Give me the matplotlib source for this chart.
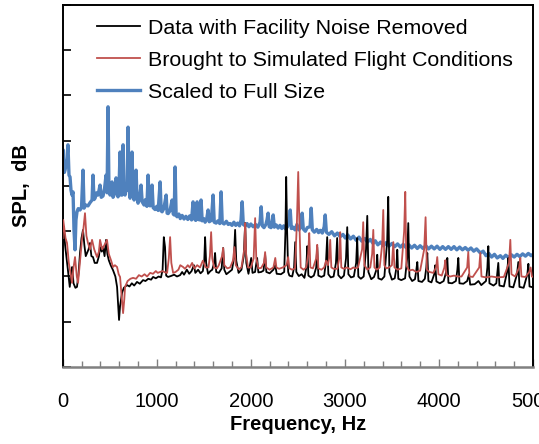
import matplotlib
matplotlib.use("Agg")
import matplotlib.pyplot as plt
from matplotlib.ticker import MultipleLocator, NullFormatter

plt.rcParams['font.family'] = ['Liberation Sans', 'DejaVu Sans']

# (frequency Hz, SPL dB)
black_pts = [
    (0, 69.8), (12, 71.0), (25, 67.0), (40, 64.3), (55, 61.5), (75, 57.7), (90, 60.5), (100, 62.1),
    (115, 58.5), (135, 57.5), (152, 57.7), (170, 61.0), (184, 65.2), (200, 68.5), (216, 70.3),
    (230, 67.0), (245, 64.5), (259, 65.2), (275, 66.0), (290, 67.4), (305, 64.5), (322, 64.3),
    (340, 63.0), (365, 63.0), (385, 64.5), (397, 66.5), (415, 65.5), (429, 66.5), (445, 64.5),
    (461, 68.1), (475, 65.0), (490, 63.6), (510, 62.5), (535, 61.4), (560, 60.0), (578, 57.7),
    (592, 53.0), (599, 50.4), (610, 53.5), (631, 56.4), (650, 57.5), (684, 58.1), (710, 57.8),
    (735, 58.5), (760, 58.0), (790, 58.8), (820, 58.4), (854, 59.2), (880, 59.0), (910, 59.5),
    (940, 59.3), (961, 59.9), (990, 59.6), (1020, 60.0), (1045, 59.8), (1062, 61.5), (1075, 68.7),
    (1088, 66.5), (1100, 60.2), (1120, 59.9), (1150, 60.1), (1185, 60.4), (1215, 60.0), (1248, 60.3),
    (1270, 61.0), (1290, 60.4), (1320, 61.5), (1345, 60.6), (1370, 61.2), (1395, 62.5), (1410, 60.8),
    (1440, 61.5), (1465, 60.7), (1490, 61.2), (1505, 63.5), (1514, 68.7), (1525, 63.0), (1545, 60.6),
    (1570, 61.2), (1590, 61.5), (1610, 63.0), (1620, 65.2), (1632, 61.0), (1660, 60.8), (1690, 61.8),
    (1706, 66.3), (1718, 61.5), (1740, 60.5), (1770, 61.0), (1800, 61.5), (1820, 64.0), (1833, 70.3),
    (1845, 63.5), (1870, 60.8), (1900, 61.5), (1925, 64.5), (1940, 71.8), (1952, 63.0), (1975, 60.6),
    (2004, 64.1), (2018, 60.8), (2045, 61.0), (2067, 64.1), (2080, 60.9), (2110, 61.0), (2135, 61.3),
    (2152, 64.8), (2165, 61.0), (2200, 60.7), (2240, 61.5), (2260, 62.5), (2275, 60.6), (2320, 60.5),
    (2355, 61.0), (2368, 70.0), (2376, 82.0), (2386, 70.0), (2397, 61.0), (2410, 60.2), (2440, 60.0),
    (2460, 62.0), (2472, 67.6), (2484, 61.0), (2510, 60.1), (2540, 60.5), (2570, 59.7), (2590, 62.0),
    (2600, 66.7), (2612, 60.2), (2640, 59.8), (2670, 60.2), (2695, 62.0), (2706, 66.5), (2718, 60.2),
    (2750, 59.9), (2780, 60.2), (2800, 63.5), (2812, 68.7), (2824, 60.5), (2850, 59.8), (2880, 60.0),
    (2905, 63.0), (2918, 68.5), (2930, 60.3), (2960, 59.6), (2990, 60.2), (3012, 64.0), (3025, 70.9),
    (3037, 60.5), (3065, 59.8), (3095, 60.0), (3120, 63.0), (3131, 68.5), (3143, 60.0), (3170, 59.5),
    (3200, 60.0), (3225, 66.0), (3238, 73.4), (3250, 61.0), (3280, 59.4), (3310, 59.9), (3335, 61.5),
    (3344, 64.8), (3356, 59.6), (3390, 59.3), (3420, 60.0), (3450, 68.0), (3461, 77.6), (3473, 61.0),
    (3500, 59.3), (3530, 59.6), (3548, 62.0), (3557, 65.9), (3568, 59.5), (3600, 59.2), (3640, 59.6),
    (3662, 64.0), (3674, 71.8), (3686, 60.0), (3715, 59.0), (3745, 59.4), (3760, 61.5), (3770, 63.2),
    (3782, 59.0), (3820, 58.8), (3850, 59.5), (3866, 62.0), (3876, 65.2), (3888, 59.0), (3920, 58.7),
    (3950, 60.5), (3961, 62.5), (3973, 58.9), (4010, 58.5), (4050, 59.0), (4077, 61.0), (4089, 64.1),
    (4101, 58.6), (4140, 58.5), (4180, 59.0), (4196, 61.5), (4206, 64.1), (4218, 58.5), (4260, 58.4),
    (4300, 59.0), (4320, 60.5), (4332, 58.2), (4380, 58.3), (4420, 59.0), (4450, 58.1), (4500, 59.0),
    (4515, 62.0), (4525, 66.7), (4537, 58.5), (4580, 58.0), (4610, 58.5), (4622, 61.0), (4631, 63.0),
    (4643, 58.0), (4690, 57.8), (4725, 61.0), (4738, 64.1), (4750, 57.8), (4790, 57.6), (4830, 60.5),
    (4844, 63.2), (4856, 57.7), (4900, 57.5), (4940, 60.5), (4951, 62.8), (4963, 57.8), (5000, 57.6),
]

red_pts = [
    (0, 68.5), (5, 72.5), (15, 71.0), (30, 68.5), (46, 67.4), (65, 63.0), (85, 60.5), (99, 58.6),
    (115, 62.0), (131, 64.3), (150, 60.0), (163, 58.6), (180, 62.5), (205, 68.1), (220, 70.5),
    (237, 74.0), (252, 69.0), (269, 67.4), (290, 66.0), (312, 68.1), (335, 66.0), (365, 64.3),
    (385, 65.5), (397, 68.1), (420, 66.0), (445, 67.0), (471, 68.1), (490, 65.0), (515, 63.5),
    (535, 62.1), (555, 62.5), (578, 62.1), (595, 60.5), (610, 59.9), (625, 56.0), (642, 51.9),
    (655, 55.0), (663, 57.7), (690, 59.0), (720, 59.5), (748, 59.7), (780, 59.5), (810, 60.3),
    (840, 60.0), (870, 60.5), (897, 60.0), (930, 60.8), (960, 60.6), (990, 61.2), (1010, 60.8),
    (1036, 61.0), (1060, 61.2), (1090, 60.9), (1110, 60.8), (1128, 64.0), (1142, 68.7), (1155, 63.0),
    (1174, 60.8), (1200, 61.0), (1230, 61.5), (1250, 62.5), (1280, 62.1), (1300, 61.7), (1330, 62.5),
    (1350, 62.0), (1376, 63.0), (1400, 61.8), (1430, 62.5), (1460, 62.0), (1490, 63.5), (1520, 62.0),
    (1550, 62.0), (1565, 64.5), (1578, 69.8), (1590, 64.0), (1610, 62.0), (1640, 61.8), (1660, 62.5),
    (1694, 64.5), (1706, 66.3), (1718, 62.5), (1750, 61.8), (1780, 62.0), (1810, 63.5), (1826, 66.5),
    (1840, 62.5), (1870, 61.6), (1900, 62.0), (1930, 66.0), (1940, 71.8), (1950, 65.0), (1970, 62.0),
    (2000, 62.0), (2030, 64.0), (2046, 72.9), (2058, 64.0), (2080, 61.8), (2110, 61.9), (2140, 63.0),
    (2152, 65.4), (2164, 62.0), (2200, 61.5), (2240, 62.0), (2260, 64.1), (2272, 62.0), (2300, 61.7),
    (2340, 62.0), (2380, 62.5), (2397, 64.3), (2410, 61.8), (2440, 61.5), (2470, 61.8), (2490, 72.0),
    (2504, 83.1), (2516, 72.0), (2530, 62.0), (2560, 61.5), (2590, 62.0), (2610, 65.0), (2621, 69.6),
    (2633, 62.0), (2660, 61.8), (2695, 64.0), (2706, 67.0), (2718, 61.8), (2750, 61.5), (2780, 62.0),
    (2800, 63.5), (2820, 62.5), (2832, 64.0), (2844, 68.1), (2856, 62.0), (2880, 61.7), (2920, 61.7),
    (2940, 64.0), (2950, 69.8), (2962, 62.0), (2990, 61.7), (3020, 62.0), (3060, 61.6), (3090, 62.0),
    (3110, 61.8), (3140, 62.0), (3183, 66.0), (3195, 72.0), (3207, 62.5), (3240, 61.5), (3270, 62.0),
    (3290, 65.0), (3302, 70.3), (3314, 62.0), (3340, 61.5), (3370, 62.0), (3396, 67.0), (3408, 74.7),
    (3420, 62.5), (3440, 61.8), (3470, 62.0), (3500, 62.5), (3515, 67.6), (3527, 62.0), (3560, 61.5),
    (3600, 61.8), (3630, 70.0), (3642, 78.7), (3654, 62.5), (3680, 61.3), (3720, 61.5), (3760, 61.0),
    (3800, 61.3), (3843, 66.0), (3858, 73.1), (3872, 61.5), (3900, 61.0), (3940, 60.8), (3970, 62.0),
    (3982, 64.3), (3994, 60.5), (4030, 60.2), (4058, 62.0), (4068, 63.6), (4080, 60.3), (4120, 60.0),
    (4160, 60.2), (4200, 60.0), (4240, 60.0), (4300, 62.0), (4312, 65.4), (4324, 60.0), (4360, 59.9),
    (4428, 62.0), (4440, 65.2), (4452, 60.0), (4500, 59.8), (4560, 60.0), (4620, 59.8), (4690, 59.9),
    (4745, 63.0), (4759, 68.1), (4771, 60.5), (4810, 60.0), (4853, 62.0), (4865, 64.1), (4877, 60.0),
    (4920, 59.9), (4960, 61.0), (4975, 62.0), (4988, 60.0), (5000, 59.9),
]

blue_pts = [
    (0, 83.1), (4, 88.0), (10, 84.5), (18, 83.0), (25, 83.5), (35, 84.6), (45, 86.0), (56, 89.1),
    (67, 82.4), (78, 82.0), (88, 79.1), (99, 78.0), (110, 78.7), (120, 70.3), (131, 65.9), (141, 72.5),
    (152, 74.3), (165, 75.0), (184, 74.7), (200, 75.2), (216, 83.5), (227, 75.1), (245, 75.8),
    (269, 75.6), (290, 76.3), (312, 76.9), (322, 82.4), (333, 77.0), (344, 77.3), (360, 78.5),
    (376, 78.0), (397, 80.2), (410, 77.5), (429, 77.8), (445, 79.5), (461, 82.4), (472, 78.5),
    (482, 97.5), (492, 79.0), (503, 78.0), (514, 79.5), (525, 80.9), (535, 77.5), (546, 78.0),
    (556, 79.0), (567, 81.8), (578, 78.5), (588, 77.6), (599, 80.0), (610, 87.5), (620, 78.0),
    (631, 78.0), (642, 89.1), (652, 78.5), (663, 78.0), (675, 80.5), (684, 79.0), (695, 93.0),
    (705, 79.5), (716, 77.3), (727, 79.0), (737, 87.5), (748, 78.0), (759, 76.9), (770, 78.0),
    (780, 83.5), (790, 77.5), (801, 76.2), (815, 77.0), (833, 80.2), (845, 76.5), (865, 75.8),
    (880, 77.0), (895, 75.5), (908, 82.4), (920, 75.8), (929, 75.6), (940, 77.0), (950, 80.2),
    (962, 75.2), (982, 74.8), (1000, 75.5), (1015, 74.6), (1036, 80.9), (1047, 74.5), (1057, 74.3),
    (1075, 75.0), (1100, 78.0), (1110, 74.0), (1121, 73.9), (1140, 74.5), (1163, 76.9), (1175, 73.8),
    (1185, 73.6), (1195, 84.2), (1206, 73.5), (1216, 73.2), (1235, 73.8), (1250, 72.8), (1270, 73.5),
    (1290, 72.7), (1310, 73.3), (1330, 72.6), (1350, 73.4), (1370, 72.5), (1386, 76.5), (1398, 72.8),
    (1414, 72.4), (1429, 76.5), (1441, 72.6), (1460, 72.5), (1471, 76.9), (1483, 72.3), (1500, 72.8),
    (1514, 72.0), (1530, 72.6), (1546, 74.7), (1558, 72.1), (1580, 72.4), (1599, 78.0), (1611, 72.0),
    (1631, 71.8), (1650, 72.3), (1670, 71.7), (1684, 78.7), (1696, 71.9), (1716, 71.6), (1740, 72.2),
    (1760, 71.5), (1780, 71.7), (1800, 71.3), (1820, 72.0), (1840, 71.3), (1860, 71.8), (1880, 71.2),
    (1896, 72.5), (1908, 76.5), (1920, 71.5), (1940, 71.2), (1960, 71.7), (1980, 71.0), (2000, 71.6),
    (2025, 71.0), (2050, 71.5), (2075, 70.9), (2098, 72.0), (2110, 75.4), (2122, 71.2), (2140, 70.8),
    (2160, 71.5), (2172, 72.5), (2184, 74.0), (2196, 71.0), (2215, 70.8), (2226, 72.0), (2238, 73.6),
    (2250, 70.9), (2270, 71.4), (2290, 70.7), (2310, 71.3), (2330, 70.6), (2350, 71.2), (2370, 70.5),
    (2390, 71.0), (2408, 72.0), (2419, 74.7), (2431, 70.6), (2450, 70.9), (2470, 70.3), (2490, 71.5),
    (2510, 70.3), (2534, 71.0), (2546, 74.0), (2558, 70.5), (2580, 70.0), (2600, 70.8), (2630, 71.0),
    (2642, 75.1), (2654, 70.3), (2675, 69.8), (2700, 70.4), (2720, 69.7), (2738, 70.2), (2760, 69.6),
    (2780, 71.0), (2791, 73.6), (2803, 69.8), (2830, 69.3), (2860, 69.9), (2890, 69.0), (2920, 69.6),
    (2950, 68.8), (2980, 69.3), (3004, 68.5), (3030, 69.2), (3060, 68.3), (3090, 68.9), (3120, 68.0),
    (3150, 68.7), (3180, 67.8), (3210, 68.4), (3240, 67.6), (3270, 68.2), (3300, 67.3), (3323, 67.9),
    (3350, 67.0), (3380, 67.6), (3410, 66.8), (3440, 67.5), (3470, 66.7), (3500, 67.3), (3530, 66.6),
    (3560, 67.2), (3590, 66.5), (3620, 67.1), (3650, 66.4), (3680, 67.0), (3710, 66.3), (3740, 66.9),
    (3770, 66.2), (3800, 66.8), (3830, 66.2), (3860, 66.8), (3890, 66.1), (3920, 66.7), (3950, 66.1),
    (3980, 66.7), (4010, 66.0), (4040, 66.6), (4070, 66.0), (4100, 66.6), (4130, 66.0), (4160, 66.6),
    (4190, 65.9), (4220, 66.5), (4250, 65.9), (4280, 66.4), (4310, 65.8), (4340, 66.3), (4370, 65.6),
    (4400, 66.1), (4440, 65.2), (4470, 65.6), (4500, 64.6), (4530, 65.1), (4560, 64.3), (4590, 64.9),
    (4620, 64.1), (4653, 64.6), (4680, 64.0), (4710, 64.7), (4740, 64.2), (4770, 64.8), (4800, 64.3),
    (4830, 64.9), (4860, 64.4), (4890, 65.0), (4920, 64.5), (4950, 65.1), (4980, 64.6), (5000, 64.9),
]

labels = ['Data with Facility Noise Removed',
          'Brought to Simulated Flight Conditions',
          'Scaled to Full Size']

fig = plt.figure(figsize=(5.39, 4.44), dpi=100)
ax = fig.add_axes([62.7 / 539, 1 - 367 / 444, (533 - 62.7) / 539, 362 / 444])

bx, by = zip(*blue_pts)
kx, ky = zip(*black_pts)
rx, ry = zip(*red_pts)
l3, = ax.plot(bx, by, color='#4F81BD', lw=2.4, zorder=2)
l1, = ax.plot(kx, ky, color='black', lw=1.3, zorder=3)
l2, = ax.plot(rx, ry, color='#C0504D', lw=1.3, zorder=4)

ax.set_xlim(0, 5000)
ax.set_ylim(40, 120)
ax.xaxis.set_major_locator(MultipleLocator(1000))
ax.xaxis.set_minor_locator(MultipleLocator(200))
ax.yaxis.set_major_locator(MultipleLocator(10))
ax.yaxis.set_major_formatter(NullFormatter())

ax.tick_params(axis='x', which='major', direction='in', length=6, width=1, color='#808080',
               labelsize=14.5, pad=18)
ax.tick_params(axis='x', which='minor', direction='in', length=4, width=1, color='#808080')
ax.tick_params(axis='y', which='major', direction='in', length=6, width=1.2, color='black')
ax.tick_params(top=False, right=False)

for side in ['left', 'top', 'right']:
    ax.spines[side].set_linewidth(1.4)
    ax.spines[side].set_color('black')
ax.spines['bottom'].set_linewidth(1.8)
ax.spines['bottom'].set_color('#808080')

ax.set_xlabel('Frequency, Hz', fontsize=14.5, fontweight='bold', labelpad=3)
ax.set_ylabel('SPL,  dB', fontsize=14.5, fontweight='bold', labelpad=19)

ax.legend([l1, l2, l3], labels, loc='upper left', bbox_to_anchor=(0.055, 0.985),
          frameon=False, fontsize=15.4, handlelength=2.0, handletextpad=0.38,
          labelspacing=0.6, borderaxespad=0)

fig.savefig('out.png', dpi=100)
